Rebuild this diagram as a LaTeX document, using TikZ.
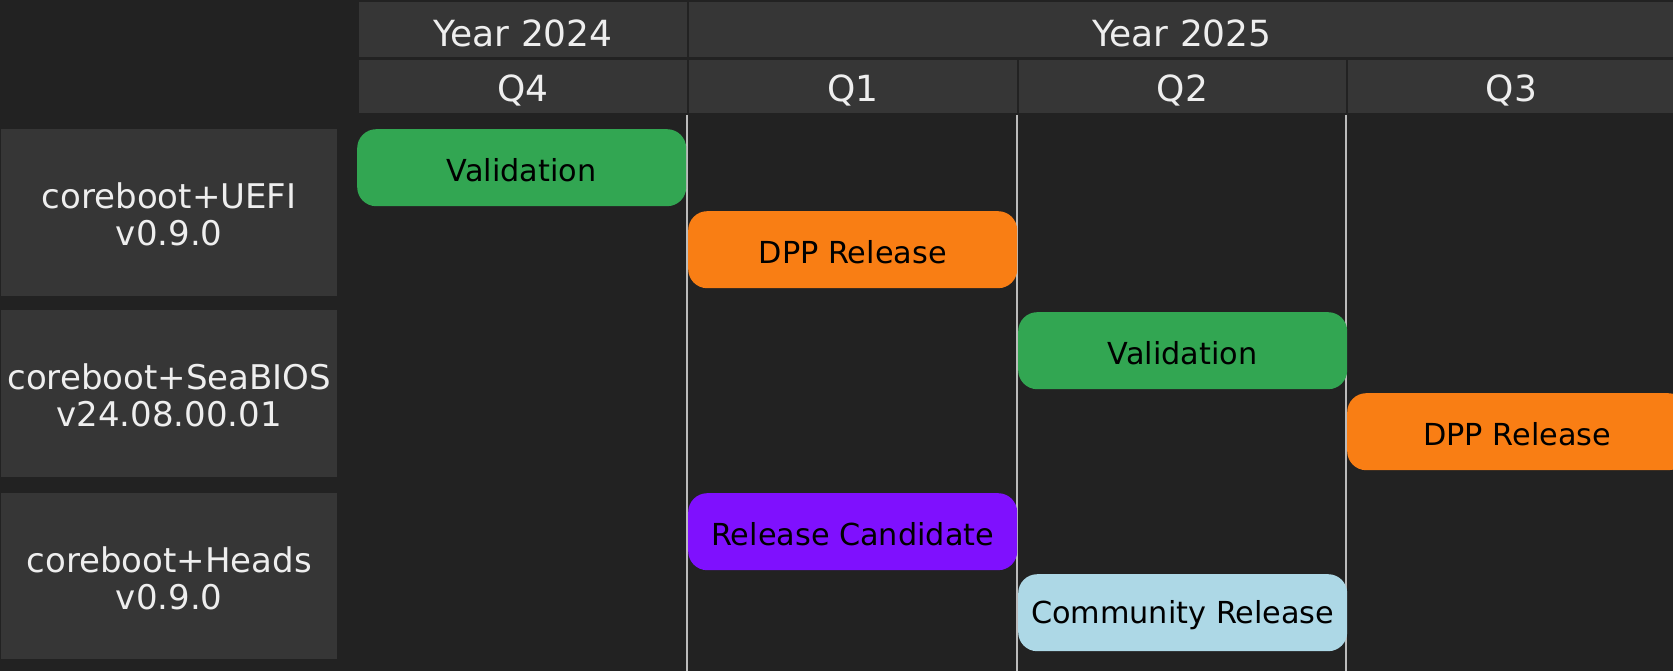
\documentclass[tikz,border=0pt]{standalone}
\usepackage{fontspec}
\setmainfont{DejaVu Sans}
\definecolor{bgc}{HTML}{222222}
\definecolor{boxc}{HTML}{363636}
\definecolor{txtc}{HTML}{EEEEEE}
\definecolor{gridc}{HTML}{BBBBBB}
\definecolor{greenc}{HTML}{32A652}
\definecolor{orangec}{HTML}{F97E14}
\definecolor{purplec}{HTML}{7F10FE}
\definecolor{bluec}{HTML}{ADD8E6}
\newcommand\lowerby[2]{\raisebox{-#1}[\height][\depth]{#2}}
\newcommand\hdrtext[1]{\lowerby{3.8pt}{#1}}
\newcommand\bartext[1]{\lowerby{2.2pt}{#1}}
\newcommand\lbltext[2]{\lowerby{7pt}{\begin{tabular}{@{}c@{}}#1\\#2\end{tabular}}}
\tikzset{
  hdr/.style={fill=boxc, draw=bgc, line width=2pt, text=txtc, inner sep=0pt, anchor=north west,
    font=\fontsize{36}{40}\selectfont},
  lbl/.style={fill=boxc, text=txtc, inner sep=0pt, anchor=north west,
    font=\fontsize{34}{37.3}\selectfont},
  bar/.style={rounded corners=19pt, text=black, inner sep=0pt, anchor=north west,
    font=\fontsize{30.3}{34}\selectfont, minimum height=77pt, minimum width=329pt},
  gridline/.style={draw=gridc, line width=1.5pt}
}
\begin{document}
\begin{tikzpicture}[x=1pt,y=-1pt]
\fill[bgc] (0,0) rectangle (1673,671);
\useasboundingbox (0,0) rectangle (1673,671);
% headers
\node[hdr, minimum width=330pt, minimum height=57pt] (y24) at (357,0) {\hdrtext{Year 2024}};
\node[hdr, minimum width=988pt, minimum height=57pt] (y25) at (687,0) {\hdrtext{Year 2025}};
\node[hdr, minimum width=330pt, minimum height=55pt] (q4) at (357,58) {\hdrtext{Q4}};
\node[hdr, minimum width=330pt, minimum height=55pt] (q1) at (687,58) {\hdrtext{Q1}};
\node[hdr, minimum width=329pt, minimum height=55pt] (q2) at (1017,58) {\hdrtext{Q2}};
\node[hdr, minimum width=329pt, minimum height=55pt] (q3) at (1346,58) {\hdrtext{Q3}};
% grid lines
\coordinate (g1b) at (687,671);
\coordinate (g2b) at (1017,671);
\coordinate (g3b) at (1346,671);
\draw[gridline] (q1.south west) -- (g1b);
\draw[gridline] (q2.south west) -- (g2b);
\draw[gridline] (q3.south west) -- (g3b);
% row labels
\node[lbl, minimum width=336pt, minimum height=167pt] (r1) at (1,129) {\lbltext{coreboot+UEFI}{v0.9.0}};
\node[lbl, minimum width=336pt, minimum height=167pt] (r2) at (1,310) {\lbltext{coreboot+SeaBIOS}{v24.08.00.01}};
\node[lbl, minimum width=336pt, minimum height=166pt] (r3) at (1,493) {\lbltext{coreboot+Heads}{v0.9.0}};
% bars
\node[bar, fill=greenc] (b1) at (357,129) {\bartext{Validation}};
\node[bar, fill=orangec] (b2) at (688,211) {\bartext{DPP Release}};
\node[bar, fill=greenc] (b3) at (1018,312) {\bartext{Validation}};
\node[bar, fill=orangec, minimum width=340pt] (b4) at (1347,393) {\bartext{DPP Release}};
\node[bar, fill=purplec] (b5) at (688,493) {\bartext{Release Candidate}};
\node[bar, fill=bluec] (b6) at (1018,574) {\bartext{Community Release}};
\end{tikzpicture}
\end{document}
